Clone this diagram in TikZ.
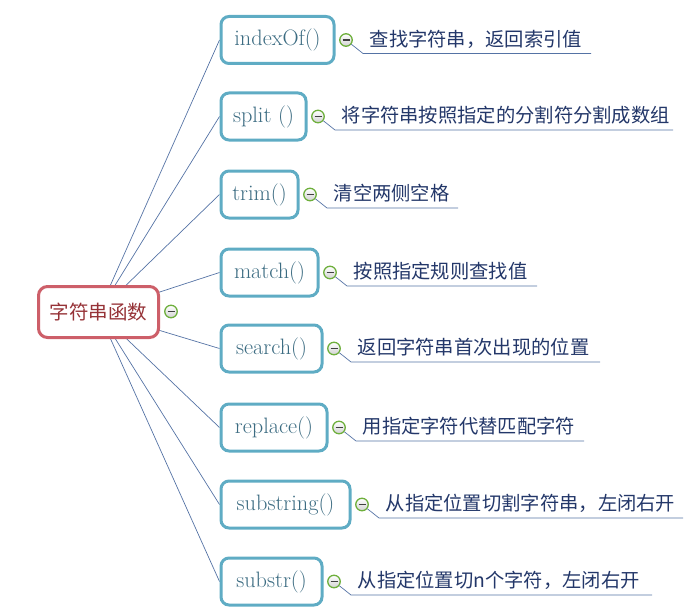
\documentclass[tikz,border=0pt]{standalone}
\usepackage{fontspec}
\newfontfamily\cjk{Noto Sans CJK SC}
\definecolor{rootline}{RGB}{205,95,105}
\definecolor{roottext}{RGB}{150,50,55}
\definecolor{boxline}{RGB}{95,172,196}
\definecolor{boxtext}{RGB}{60,108,130}
\definecolor{desctext}{RGB}{35,55,105}
\definecolor{conn}{RGB}{85,115,165}
\definecolor{mgreen}{RGB}{110,175,60}
\begin{document}
\begin{tikzpicture}[x=1pt,y=-1pt,
  rootbox/.style={draw=rootline,line width=3pt,rounded corners=9pt,fill=white,
    minimum width=120pt,minimum height=51pt,inner sep=0pt,text=roottext,
    font=\cjk\fontsize{19.5}{22}\selectfont},
  funcbox/.style={draw=boxline,line width=3pt,rounded corners=8pt,fill=white,
    minimum height=47pt,inner sep=0pt,text=boxtext,anchor=west,
    font=\fontsize{22.3}{26}\selectfont},
  desc/.style={anchor=west,inner sep=0pt,text=desctext,
    font=\cjk\fontsize{19.3}{22}\selectfont},
  minus/.style={circle,draw=mgreen,line width=1.3pt,
    top color=white,bottom color=gray!35,
    minimum size=12.5pt,inner sep=0pt,
    path picture={\draw[black!75,line width=1.1pt] ([xshift=-3.5pt]path picture bounding box.center) -- ([xshift=3.5pt]path picture bounding box.center);}},
  connline/.style={draw=conn,line width=0.7pt}]
\useasboundingbox (0,0) rectangle (698,615);

\coordinate (rc) at (98.5,312);
% connectors from root (drawn first, behind)
\foreach \i/\cy in {1/40,2/116.5,3/194.5,4/272.5,5/348.5,6/427.5,7/504.5,8/581.5}{
  \coordinate (fw\i) at (219.5,\cy);
  \draw[connline] (rc) -- (fw\i);
}
\node[rootbox] (root) at (rc) {字符串函数};
\node[minus] (rm) at (171,311.5) {};

\foreach \i/\cy/\w/\lab/\txt/\uend in {
  1/40/113/{indexOf()}/{查找字符串，返回索引值}/591,
  2/116.5/85/{split ()}/{将字符串按照指定的分割符分割成数组}/673,
  3/194.5/77/{trim()}/{清空两侧空格}/458,
  4/272.5/97/{match()}/{按照指定规则查找值}/537,
  5/348.5/101/{search()}/{返回字符串首次出现的位置}/600,
  6/427.5/106/{replace()}/{用指定字符代替匹配字符}/584,
  7/504.5/129/{substring()}/{从指定位置切割字符串，左闭右开}/683,
  8/581.5/101/{substr()}/{从指定位置切n个字符，左闭右开}/652}{
  \node[funcbox,minimum width=\w pt] (f\i) at (fw\i) {\lab};
  \node[minus] (m\i) at ([xshift=10.5pt]f\i.east) {};
  \coordinate (us\i) at ([xshift=27.5pt,yshift=-13.5pt]f\i.east);
  \coordinate (ue\i) at (\uend,\cy+13.5);
  \draw[connline] (m\i) -- (us\i) -- (ue\i);
  \node[desc] (d\i) at ([xshift=34pt,yshift=1pt]f\i.east) {\txt};
}
\end{tikzpicture}
\end{document}
